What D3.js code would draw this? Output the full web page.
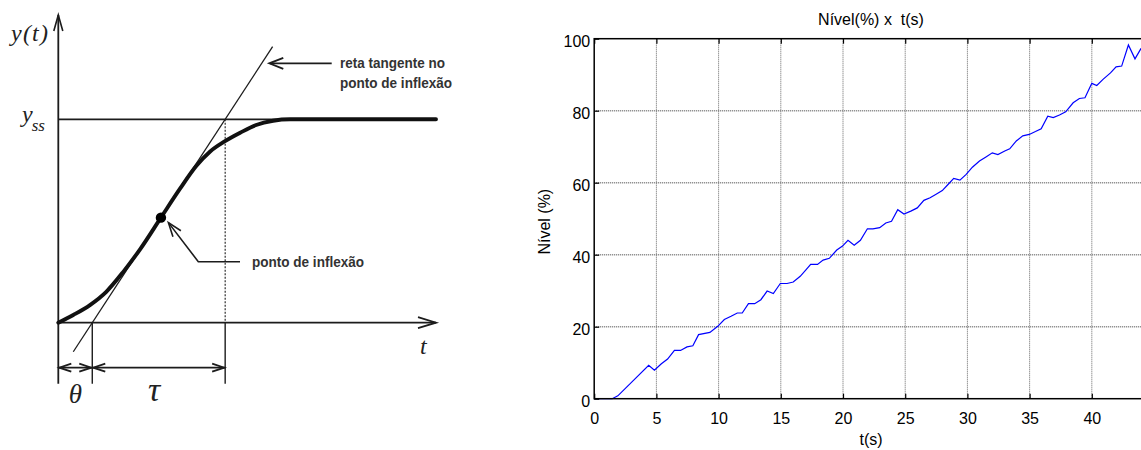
<!DOCTYPE html>
<html>
<head>
<meta charset="utf-8">
<script src="https://cdn.jsdelivr.net/npm/d3@7/dist/d3.min.js"></script>
<style>
  html, body { margin: 0; padding: 0; background: #fff; }
  svg { display: block; }
</style>
</head>
<body>
<svg id="chart" width="1141" height="450"></svg>
<script>
// ---------------- LEFT: schematic S-curve (arbitrary units) ----------------
const curveT = [0, 1.5, 3.2, 4.8, 6.5, 8.2, 10.27, 12.2, 13.8, 15.2, 16.6, 18.2, 19.8, 21.5, 23.2, 37.8];
const curveY = [0, 0.038, 0.088, 0.152, 0.25, 0.362, 0.5165, 0.66, 0.77, 0.842, 0.89, 0.934, 0.972, 0.993, 1, 1];
const theta = 3.4;          // dead time
const tau = 13.3;           // time constant
const yss = 1;              // steady state
const inflectionT = 10.27;  // inflection point time
const tangentSpan = [1.5, 21.45];
const tMax = 37.8;
const yAxisSpan = [-0.3, 1.513];
const dimY = -0.221;

// ---------------- RIGHT: Nível(%) x t(s) ----------------
const tData = [0, 1.45, 1.9, 4.38, 4.84, 5.4, 5.9, 6.45, 6.94, 7.46, 7.93, 8.39, 9.3, 9.93, 10.46, 11.0, 11.5, 11.9, 12.4, 12.9, 13.4, 13.9, 14.4, 14.96, 15.5, 16.0, 16.56, 17.0, 17.4, 17.95, 18.4, 18.9, 19.5, 19.96, 20.4, 20.9, 21.4, 21.96, 22.4, 22.95, 23.44, 23.9, 24.4, 24.9, 25.45, 25.97, 26.5, 27.0, 27.45, 27.98, 28.44, 28.9, 29.4, 29.9, 30.4, 30.97, 31.46, 32.0, 32.45, 33.0, 33.4, 33.93, 34.45, 34.97, 35.47, 35.93, 36.46, 36.9, 37.4, 37.9, 38.5, 39.0, 39.45, 40.0, 40.4, 40.9, 41.5, 41.95, 42.4, 42.94, 43.47, 43.96];
const nivel = [0, 0, 0.8, 9.27, 7.9, 9.7, 11.0, 13.4, 13.4, 14.4, 14.7, 17.8, 18.4, 20.1, 22.0, 22.9, 23.8, 23.8, 26.4, 26.4, 27.5, 29.9, 29.2, 32.0, 32.0, 32.4, 34.0, 35.7, 37.3, 37.3, 38.5, 39.0, 41.3, 42.4, 44.0, 42.6, 44.0, 47.2, 47.2, 47.5, 48.8, 49.3, 52.5, 51.3, 52.1, 53.0, 55.1, 55.8, 56.7, 57.8, 59.5, 61.2, 60.7, 62.3, 64.3, 66.0, 67.1, 68.3, 67.8, 68.8, 69.4, 71.6, 73.0, 73.4, 74.2, 75.0, 78.5, 78.1, 78.8, 79.7, 82.2, 83.4, 83.6, 87.6, 87.0, 88.7, 90.5, 92.2, 92.4, 98.25, 94.4, 97.3];
const xTicks = [0, 5, 10, 15, 20, 25, 30, 35, 40];
const yTicks = [0, 20, 40, 60, 80, 100];
const xDomain = [0, 44.5];
const yDomain = [0, 100];
const titleText = "Nível(%) x  t(s)";
const xLabelText = "t(s)";
const yLabelText = "Nível (%)";

const svg = d3.select("#chart");
const ink = "#1c1c1c";

// ===== LEFT DIAGRAM =====
const L = svg.append("g");
const xL = d3.scaleLinear().domain([0, tMax]).range([58.3, 436]);
const yL = d3.scaleLinear().domain([0, 1]).range([322.7, 119.3]);

function openArrow(g, tip, from, len, half, sw) {
  const dx = from[0] - tip[0], dy = from[1] - tip[1];
  const d = Math.hypot(dx, dy), ux = dx / d, uy = dy / d;
  const bx = tip[0] + ux * len, by = tip[1] + uy * len;
  const px = -uy * half, py = ux * half;
  g.append("path")
    .attr("d", `M${bx + px},${by + py} L${tip[0]},${tip[1]} L${bx - px},${by - py}`)
    .attr("fill", "none").attr("stroke", ink).attr("stroke-width", sw)
    .attr("stroke-linejoin", "miter");
}

// y axis
L.append("line").attr("x1", xL(0)).attr("x2", xL(0))
  .attr("y1", yL(yAxisSpan[0])).attr("y2", yL(yAxisSpan[1]))
  .attr("stroke", ink).attr("stroke-width", 1.8);
openArrow(L, [xL(0), yL(yAxisSpan[1])], [xL(0), yL(0)], 16, 4.5, 1.6);
// t axis
L.append("line").attr("x1", xL(0)).attr("x2", xL(tMax))
  .attr("y1", yL(0)).attr("y2", yL(0))
  .attr("stroke", ink).attr("stroke-width", 1.8);
openArrow(L, [xL(tMax), yL(0)], [xL(0), yL(0)], 18, 5.5, 1.8);
// yss line
L.append("line").attr("x1", xL(0)).attr("x2", xL(tMax))
  .attr("y1", yL(yss)).attr("y2", yL(yss))
  .attr("stroke", ink).attr("stroke-width", 1.8);

// tangent line
const tanY = t => (t - theta) / tau * yss;
L.append("line")
  .attr("x1", xL(tangentSpan[0])).attr("y1", yL(tanY(tangentSpan[0])))
  .attr("x2", xL(tangentSpan[1])).attr("y2", yL(tanY(tangentSpan[1])))
  .attr("stroke", ink).attr("stroke-width", 1.3);

// vertical at theta
L.append("line").attr("x1", xL(theta)).attr("x2", xL(theta))
  .attr("y1", yL(0)).attr("y2", yL(yAxisSpan[0]))
  .attr("stroke", ink).attr("stroke-width", 1.4);
// vertical at theta+tau (dashed above axis, solid below)
L.append("line").attr("x1", xL(theta + tau)).attr("x2", xL(theta + tau))
  .attr("y1", yL(yss)).attr("y2", yL(0))
  .attr("stroke", ink).attr("stroke-width", 1.1).attr("stroke-dasharray", "2,1.5");
L.append("line").attr("x1", xL(theta + tau)).attr("x2", xL(theta + tau))
  .attr("y1", yL(0)).attr("y2", yL(yAxisSpan[0]))
  .attr("stroke", ink).attr("stroke-width", 1.4);

// S curve
const sPts = curveT.map((t, i) => [t, curveY[i]]);
L.append("path").datum(sPts)
  .attr("d", d3.line().x(d => xL(d[0])).y(d => yL(d[1])).curve(d3.curveMonotoneX))
  .attr("fill", "none").attr("stroke", "#111").attr("stroke-width", 3.9)
  .attr("stroke-linecap", "round");

// inflection dot
L.append("circle").attr("cx", xL(inflectionT)).attr("cy", yL(tanY(inflectionT)))
  .attr("r", 5.2).attr("fill", "#000");

// dimension arrows
L.append("line").attr("x1", xL(0)).attr("x2", xL(theta)).attr("y1", yL(dimY)).attr("y2", yL(dimY))
  .attr("stroke", ink).attr("stroke-width", 1.8);
L.append("line").attr("x1", xL(theta)).attr("x2", xL(theta + tau)).attr("y1", yL(dimY)).attr("y2", yL(dimY))
  .attr("stroke", ink).attr("stroke-width", 1.8);
openArrow(L, [xL(0) + 1, yL(dimY)], [xL(theta), yL(dimY)], 12, 4, 1.8);
openArrow(L, [xL(theta) - 1, yL(dimY)], [xL(0), yL(dimY)], 12, 4, 1.8);
openArrow(L, [xL(theta) + 1, yL(dimY)], [xL(theta + tau), yL(dimY)], 12, 4, 1.8);
openArrow(L, [xL(theta + tau) - 1, yL(dimY)], [xL(theta), yL(dimY)], 12, 4, 1.8);

// annotation: tangent
L.append("line").attr("x1", 331.7).attr("x2", 270).attr("y1", 63.3).attr("y2", 63.3)
  .attr("stroke", ink).attr("stroke-width", 1.8);
openArrow(L, [269.3, 63.3], [331.7, 63.3], 14, 5.5, 1.8);
// annotation: inflection
L.append("path").attr("d", `M240,261.7 L198.3,261.7 L${xL(inflectionT) + 7.5},${yL(tanY(inflectionT)) + 5}`)
  .attr("fill", "none").attr("stroke", ink).attr("stroke-width", 1.6);
openArrow(L, [xL(inflectionT) + 7.5, yL(tanY(inflectionT)) + 5], [198.3, 261.7], 14, 5, 1.6);

const serif = "'Liberation Serif', 'DejaVu Serif', serif";
const sansB = "'Liberation Sans', Arial, sans-serif";
L.append("text").attr("x", 11).attr("y", 41).attr("font-family", serif).attr("font-style", "italic")
  .attr("font-size", 24).attr("fill", "#222")
  .attr("textLength", 37).attr("lengthAdjust", "spacing").text("y(t)");
const yssT = L.append("text").attr("x", 22).attr("y", 122).attr("font-family", serif)
  .attr("font-style", "italic").attr("font-size", 24).attr("fill", "#222");
yssT.append("tspan").text("y");
yssT.append("tspan").attr("dy", 9).attr("dx", -1).attr("font-size", 17).text("ss");
L.append("text").attr("x", 420).attr("y", 354).attr("font-family", serif).attr("font-style", "italic")
  .attr("font-size", 24).attr("fill", "#222").text("t");
L.append("text").attr("x", (xL(0) + xL(theta)) / 2).attr("y", 403).attr("text-anchor", "middle")
  .attr("font-family", serif).attr("font-style", "italic").attr("font-size", 27).attr("fill", "#222").text("θ");
L.append("text").attr("x", 154).attr("y", 401).attr("text-anchor", "middle")
  .attr("font-family", serif).attr("font-style", "italic").attr("font-size", 34).attr("fill", "#222").text("τ");
function note(txt, xx, yy, len) {
  L.append("text").attr("x", xx).attr("y", yy).attr("font-family", sansB).attr("font-weight", "bold")
    .attr("font-size", 15).attr("fill", "#333")
    .attr("textLength", len).attr("lengthAdjust", "spacingAndGlyphs").text(txt);
}
note("reta tangente no", 340, 68, 105);
note("ponto de inflexão", 340, 88, 112);
note("ponto de inflexão", 252, 266.5, 112);

// ===== RIGHT CHART =====
const R = svg.append("g");
const x = d3.scaleLinear().domain(xDomain).range([594.2, 1147.8]);
const y = d3.scaleLinear().domain(yDomain).range([398.7, 38.7]);
const sans = "'Liberation Sans', Arial, Helvetica, sans-serif";

// grid
R.append("g").selectAll("line").data(xTicks.slice(1)).join("line")
  .attr("x1", d => x(d)).attr("x2", d => x(d)).attr("y1", y(100)).attr("y2", y(0))
  .attr("stroke", "#666").attr("stroke-width", 1).attr("stroke-dasharray", "1,1");
R.append("g").selectAll("line").data(yTicks.slice(1, -1)).join("line")
  .attr("x1", x(0)).attr("x2", x(xDomain[1])).attr("y1", d => y(d)).attr("y2", d => y(d))
  .attr("stroke", "#777").attr("stroke-width", 1.4).attr("stroke-dasharray", "1,1");

// data line
R.append("path").datum(tData.map((t, i) => [t, nivel[i]]))
  .attr("d", d3.line().x(d => x(d[0])).y(d => y(d[1])))
  .attr("fill", "none").attr("stroke", "#0000ff").attr("stroke-width", 1.2);

// box
R.append("rect").attr("x", x(0)).attr("y", y(100)).attr("width", x(xDomain[1]) - x(0)).attr("height", y(0) - y(100))
  .attr("fill", "none").attr("stroke", "#000").attr("stroke-width", 1.5);

// ticks (inward) via axes
const axB = R.append("g").attr("transform", `translate(0,${y(0)})`)
  .call(d3.axisBottom(x).tickValues(xTicks).tickSize(-5).tickPadding(9).tickFormat(d3.format("d")));
const axT = R.append("g").attr("transform", `translate(0,${y(100)})`)
  .call(d3.axisTop(x).tickValues(xTicks).tickSize(-5).tickFormat(""));
const axL = R.append("g").attr("transform", `translate(${x(0)},0)`)
  .call(d3.axisLeft(y).tickValues(yTicks).tickSize(-5).tickPadding(9).tickFormat(d3.format("d")));
[axB, axT, axL].forEach(a => {
  a.select(".domain").remove();
  a.selectAll(".tick line").attr("stroke", "#000").attr("stroke-width", 1.2);
  a.selectAll("text").attr("font-family", sans).attr("font-size", 16).attr("fill", "#000");
});
axB.selectAll("text").attr("dy", null).attr("y", 25);
axL.selectAll("text").attr("dy", null).attr("y", 8).attr("x", -4);

// titles
R.append("text").attr("x", (x(0) + x(xDomain[1])) / 2).attr("y", 25).attr("text-anchor", "middle")
  .attr("font-family", sans).attr("font-size", 16).attr("fill", "#000")
  .attr("xml:space", "preserve").style("white-space", "pre").text(titleText);
R.append("text").attr("x", (x(0) + x(xDomain[1])) / 2).attr("y", 445).attr("text-anchor", "middle")
  .attr("font-family", sans).attr("font-size", 16).attr("fill", "#000").text(xLabelText);
R.append("text").attr("transform", `translate(550,${(y(0) + y(100)) / 2 + 3}) rotate(-90)`).attr("text-anchor", "middle")
  .attr("font-family", sans).attr("font-size", 16).attr("fill", "#000").text(yLabelText);
</script>
</body>
</html>
